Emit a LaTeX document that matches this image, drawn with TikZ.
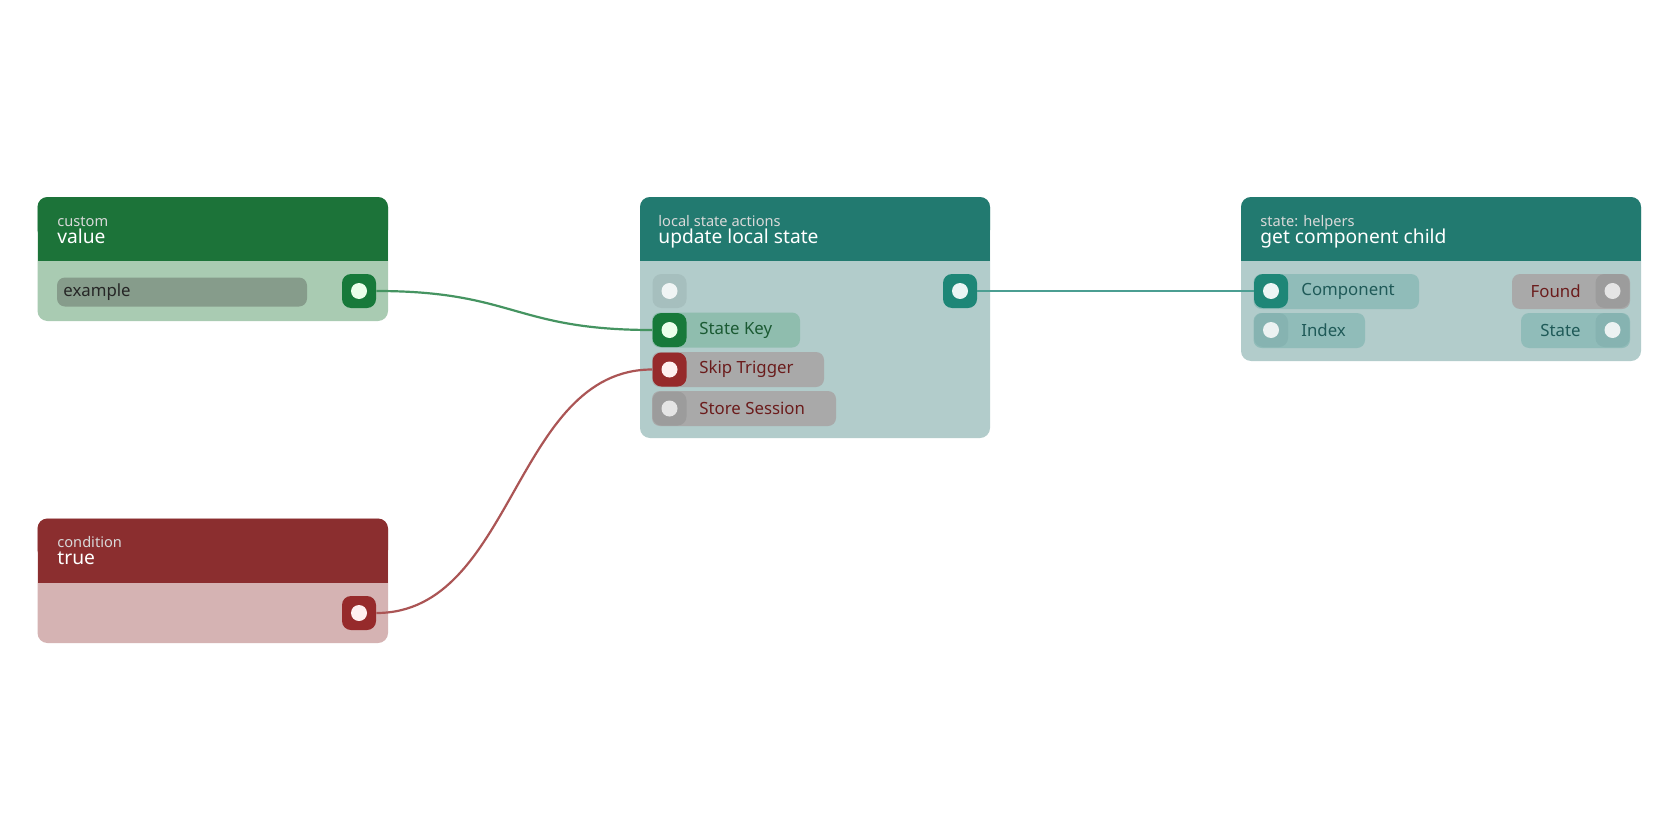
\documentclass[tikz,border=0pt]{standalone}
\usepackage{fontspec}
\setmainfont{Noto Sans}
\begin{document}
\begin{tikzpicture}[x=0.5pt,y=-0.5pt,
  sub/.style={anchor=base west,inner sep=0,font=\fontsize{7.3}{8}\selectfont,text=white!85!black},
  ttl/.style={anchor=base west,inner sep=0,font=\fontsize{9.6}{10}\selectfont,text=white},
  lbl/.style={anchor=west,inner sep=0,font=\fontsize{8.4}{9}\selectfont},
  port/.style={minimum width=17pt,minimum height=17pt,inner sep=0,rounded corners=4.5pt,draw=none},
  dot/.style={circle,minimum size=8pt,inner sep=0}]
\definecolor{tealH}{HTML}{227A70}\definecolor{tealB}{HTML}{B2CCCB}
\definecolor{grnH}{HTML}{1C7339}\definecolor{grnB}{HTML}{A9CBB2}
\definecolor{redH}{HTML}{8B2E2F}\definecolor{redB}{HTML}{D5B3B3}
\definecolor{pG}{HTML}{17793A}\definecolor{pR}{HTML}{962A2B}\definecolor{pT}{HTML}{1E8677}
\definecolor{pillG}{HTML}{8FBDAE}\definecolor{pillR}{HTML}{A9A9A9}\definecolor{pillT}{HTML}{90BCB9}
\definecolor{txR}{HTML}{6B1C1C}\definecolor{txT}{HTML}{1F5A58}\definecolor{txG}{HTML}{1B5A33}
\definecolor{inP}{HTML}{A6BFBE}\definecolor{inT}{HTML}{86B3B1}\definecolor{inR}{HTML}{9C9C9C}
\useasboundingbox[fill=white] (0,0) rectangle (1680,840);
% custom value
\fill[grnB,rounded corners=5pt] (37.5,197) rectangle (388,321);
\fill[grnH,rounded corners=5pt] (37.5,197) rectangle (388,240);
\fill[grnH] (37.5,230) rectangle (388,261);
\node[sub] (cvs) at (57,226) {custom};
\node[ttl] (cvt) at (57,243) {value};
\fill[black!20!grnB!80!gray,rounded corners=4pt] (57,277.5) rectangle (307,306.5);
\node[lbl,text=black!85] (ex) at (63,292) {example};
\node[port,fill=pG] (o1) at (359,291) {}; \node[dot,fill=white!92!green] at (o1) {};
% condition
\fill[redB,rounded corners=5pt] (37.5,518.5) rectangle (388,643);
\fill[redH,rounded corners=5pt] (37.5,518.5) rectangle (388,560);
\fill[redH] (37.5,550) rectangle (388,583);
\node[sub] (cds) at (57,547.5) {condition};
\node[ttl] (cdt) at (57,564.5) {true};
\node[port,fill=pR] (o2) at (359,613) {}; \node[dot,fill=white!94!red] at (o2) {};
% update local state
\fill[tealB,rounded corners=5pt] (640,197) rectangle (990,438);
\fill[tealH,rounded corners=5pt] (640,197) rectangle (990,240);
\fill[tealH] (640,230) rectangle (990,261);
\node[sub] (us) at (658,226) {local state actions};
\node[ttl] (ut) at (658,243) {update local state};
\node[port,fill=inP] (i0) at (669.5,291) {}; \node[dot,fill=white!80!tealB] at (i0) {};
\fill[pillG,rounded corners=4pt] (652,312.5) rectangle (800,347.5);
\node[port,fill=pG] (i1) at (669.5,330) {}; \node[dot,fill=white!92!green] at (i1) {};
\node[lbl,text=txG] at (699,330) {State Key};
\fill[pillR,rounded corners=4pt] (652,352) rectangle (824,387);
\node[port,fill=pR] (i2) at (669.5,369.5) {}; \node[dot,fill=white!94!red] at (i2) {};
\node[lbl,text=txR] at (699,369.5) {Skip Trigger};
\fill[pillR,rounded corners=4pt] (652,391) rectangle (836,426);
\node[port,fill=inR] (i3) at (669.5,408.5) {}; \node[dot,fill=white!80!gray] at (i3) {};
\node[lbl,text=txR] at (699,408.5) {Store Session};
\node[port,fill=pT] (o3) at (960,291) {}; \node[dot,fill=white!92!teal] at (o3) {};
% get component child
\fill[tealB,rounded corners=5pt] (1241,197) rectangle (1641,361);
\fill[tealH,rounded corners=5pt] (1241,197) rectangle (1641,240);
\fill[tealH] (1241,230) rectangle (1641,261);
\node[sub] (gs) at (1260,226) {state: helpers};
\node[ttl] (gt) at (1260,243) {get component child};
\fill[pillT,rounded corners=4pt] (1253.5,274) rectangle (1419,309);
\node[port,fill=pT] (g1) at (1271,291) {}; \node[dot,fill=white!92!teal] at (g1) {};
\node[lbl,text=txT] at (1301,291) {Component};
\fill[pillT,rounded corners=4pt] (1253.5,313) rectangle (1365,348);
\node[port,fill=inT] (g2) at (1271,330) {}; \node[dot,fill=white!75!tealB] at (g2) {};
\node[lbl,text=txT] at (1301,330) {Index};
\fill[pillR,rounded corners=4pt] (1512,274) rectangle (1630,309);
\node[port,fill=inR] (g3) at (1612.5,291) {}; \node[dot,fill=white!80!gray] at (g3) {};
\node[lbl,anchor=east,text=txR] at (1581,291) {Found};
\fill[pillT,rounded corners=4pt] (1521,313) rectangle (1630,348);
\node[port,fill=inT] (g4) at (1612.5,330) {}; \node[dot,fill=white!75!tealB] at (g4) {};
\node[lbl,anchor=east,text=txT] at (1581,330) {State};
% edges
\begin{scope}[on background layer/.style={}]
\draw[line width=1.1pt,color=pG!80!white] (o1.east) .. controls (514,291) and (514,330) .. (i1.west);
\draw[line width=1.1pt,color=pR!80!white] (o2.east) .. controls (514,613) and (514,369.5) .. (i2.west);
\draw[line width=1.1pt,color=pT!80!white] (o3.east) -- (g1.west);
\end{scope}
\end{tikzpicture}
\end{document}
